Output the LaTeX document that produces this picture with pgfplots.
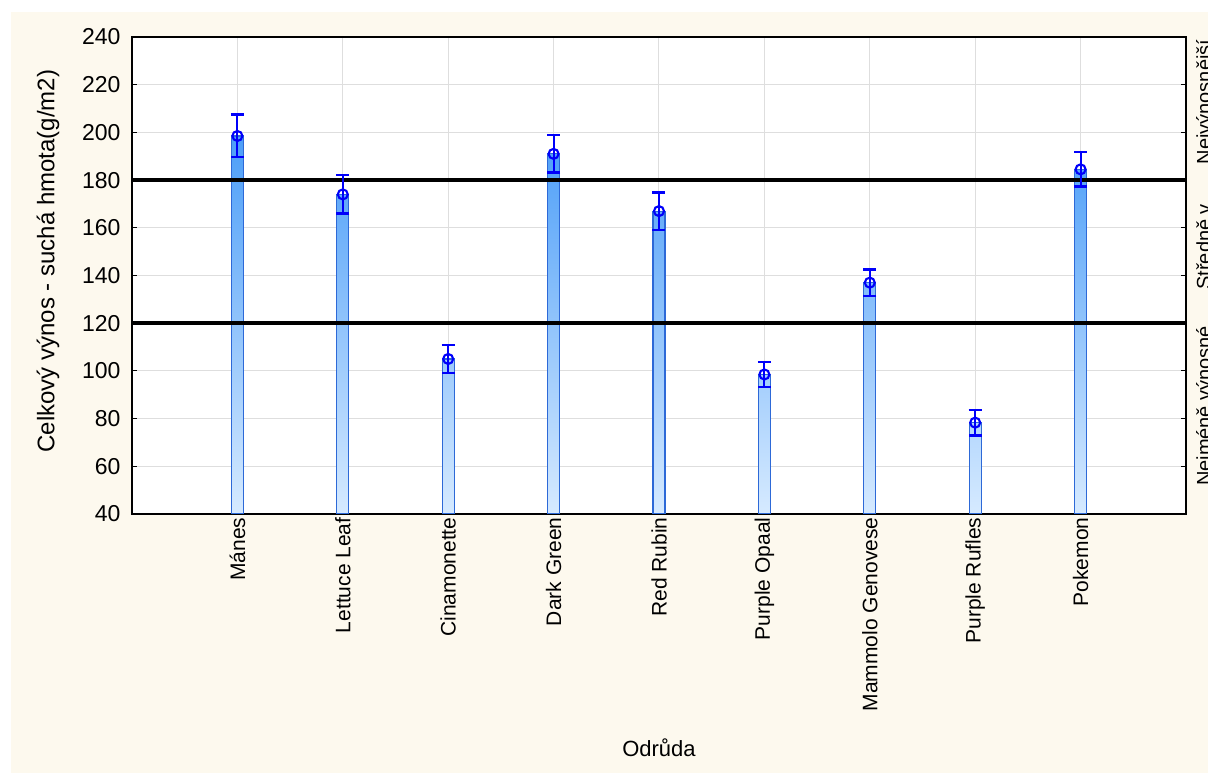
\documentclass[border=0pt]{standalone}
\usepackage{fontspec}
\setmainfont{Liberation Sans}
\usepackage{pgfplots}
\usepackage{pgfplotstable}
\pgfplotsset{compat=1.18}

\definecolor{cream}{RGB}{253,249,238}
\definecolor{gtop}{RGB}{40,138,246}
\definecolor{gbot}{RGB}{214,234,255}
\definecolor{barline}{RGB}{45,105,215}
\definecolor{errblue}{RGB}{0,0,250}
\definecolor{gridgray}{RGB}{222,222,222}

% mean dry-matter yield (g/m2) and its error, per variety
\pgfplotstableread{
x y e
1 198.5 9.0
2 174.0 8.0
3 105.0 6.0
4 191.0 7.8
5 167.0 7.8
6 98.5 5.1
7 137.0 5.5
8 78.3 5.4
9 184.5 7.2
}\means

% one bar, shaded along the value axis; #1 = (value-40)/200 in percent
\pgfplotsset{
  gbar/.style={ybar, bar width=12pt, bar shift=0pt, draw=barline,
    line width=1.2pt, bottom color=gbot, top color=gtop!#1!gbot},
}

\begin{document}
\begin{tikzpicture}[font=\fontsize{21}{24}\selectfont]
\useasboundingbox (-132pt,-259pt) rectangle (1076pt,514pt);
\fill[white] (-132pt,-259pt) rectangle (1076pt,514pt);
\fill[cream] (-121pt,-259pt) rectangle (1076pt,502pt);
\clip (-132pt,-259pt) rectangle (1076pt,514pt);
\begin{axis}[
  scale only axis, width=1054pt, height=477pt,
  xmin=0, xmax=10, ymin=40, ymax=240,
  axis background/.style={fill=white},
  axis line style={black, line width=1.3pt},
  xtick={1,...,9},
  xticklabels={Mánes, Lettuce Leaf, Cinamonette, Dark Green, Red Rubin,
    Purple Opaal, Mammolo Genovese, Purple Rufles, Pokemon},
  ytick={40,60,...,240},
  xtick pos=bottom, ytick pos=both,
  major tick length=5pt,
  tick style={black, line width=1.2pt},
  tick label style={font=\fontsize{21}{24}\selectfont},
  /pgf/number format/assume math mode=true,
  yticklabel style={xshift=-8pt, font=\fontsize{23}{26}\selectfont},
  xticklabel style={rotate=90, anchor=east},
  xmajorgrids, ymajorgrids,
  major grid style={gridgray, line width=1pt},
  xlabel={Odrůda},
  ylabel={Celkový výnos - suchá hmota(g/m2)},
  xlabel style={at={(axis description cs:0.5,-0.4906)}, anchor=center,
    font=\fontsize{22}{26}\selectfont},
  ylabel style={at={(axis description cs:-0.0797,0.53)}, anchor=center,
    font=\fontsize{24}{28}\selectfont},
]
\addplot[gbar=79.3] coordinates {(1,198.5)};
\addplot[gbar=67.0] coordinates {(2,174.0)};
\addplot[gbar=32.5] coordinates {(3,105.0)};
\addplot[gbar=75.5] coordinates {(4,191.0)};
\addplot[gbar=63.5] coordinates {(5,167.0)};
\addplot[gbar=29.3] coordinates {(6,98.5)};
\addplot[gbar=48.5] coordinates {(7,137.0)};
\addplot[gbar=19.2] coordinates {(8,78.3)};
\addplot[gbar=72.3] coordinates {(9,184.5)};

% class boundaries
\addplot[black, line width=3.5pt] coordinates {(0,180) (10,180)};
\addplot[black, line width=3.5pt] coordinates {(0,120) (10,120)};

\addplot[only marks, mark=o, mark size=5pt,
  mark options={errblue, line width=2.1pt},
  error bars/.cd, y dir=both, y explicit,
  error bar style={errblue, line width=2.1pt},
  error mark options={rotate=90, mark size=6.5pt, line width=2.1pt, errblue}]
  table[x=x, y=y, y error=e] {\means};

\coordinate (c1) at (axis cs:10,212.7);
\coordinate (c2) at (axis cs:10,152);
\coordinate (c3) at (axis cs:10,85.3);
\end{axis}
\node[rotate=90, anchor=base, font=\fontsize{20}{24}\selectfont] at ([xshift=25pt]c1) {Nejvýnosnější};
\node[rotate=90, anchor=base, font=\fontsize{20}{24}\selectfont] at ([xshift=25pt]c2) {Středně v};
\node[rotate=90, anchor=base, font=\fontsize{20}{24}\selectfont] at ([xshift=25pt]c3) {Nejméně výnosné};
\end{tikzpicture}
\end{document}
